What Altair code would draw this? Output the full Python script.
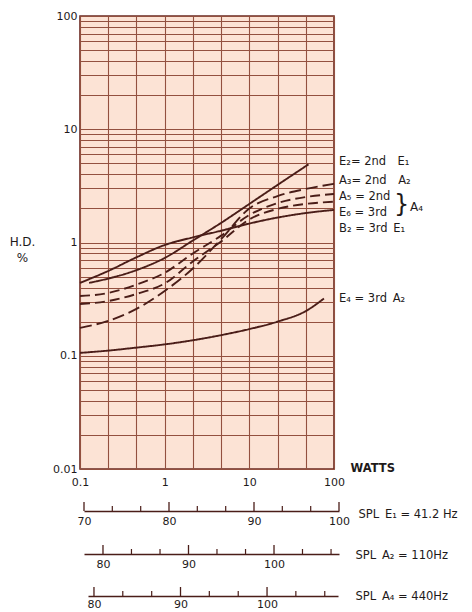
import altair as alt
import pandas as pd

FONT = "DejaVu Sans"
INK = "#4a1d18"
TEXT = "#1e1a1a"
BG = "#fce3d5"
GRID = "#93503f"

# ---------------- axis / grid values ----------------
x_grid = [0.1, 0.2154, 0.4642, 1, 2.154, 4.642, 10, 21.54, 46.42, 100]
x_label_vals = [0.1, 1, 10, 100]
x_label_txt = ["0.1", "1", "10", "100"]
y_grid = [m * d for d in [0.01, 0.1, 1, 10] for m in range(1, 10)] + [100]
y_label_vals = [0.01, 0.1, 1, 10, 100]
y_label_txt = ["0.01", "0.1", "1", "10", "100"]

# ---------------- curves (watts, H.D. %) ----------------
W = [0.1, 0.215, 0.464, 1, 2.15, 4.64, 10, 21.5, 46.4, 100]
E2_w = [0.128, 0.215, 0.464, 1, 2.15, 4.64, 10, 21.5, 50]
E2_hd = [0.44, 0.48, 0.57, 0.73, 1.04, 1.49, 2.19, 3.22, 4.9]
A3_hd = [0.176, 0.203, 0.259, 0.373, 0.59, 1.07, 2.0, 2.57, 2.97, 3.30]
A5_hd = [0.337, 0.358, 0.425, 0.54, 0.80, 1.15, 1.75, 2.23, 2.52, 2.68]
E6_hd = [0.286, 0.304, 0.351, 0.435, 0.68, 1.02, 1.60, 1.98, 2.19, 2.29]
B2_hd = [0.44, 0.56, 0.74, 0.95, 1.11, 1.27, 1.47, 1.66, 1.82, 1.94]
E4_w = [0.1, 0.215, 0.464, 1, 2.15, 4.64, 10, 21.5, 46.4, 76]
E4_hd = [0.106, 0.111, 0.118, 0.126, 0.137, 0.152, 0.172, 0.200, 0.248, 0.32]

series_names = ["E2", "A3", "A5", "E6", "B2", "E4"]
series_dash = [[1, 0], [12, 5], [10, 5], [10, 5], [1, 0], [1, 0]]

# right-hand labels (text, H.D. level)
label_txt = ["E₂= 2nd\u2002\u2002E₁", "A₃= 2nd\u2002\u2002A₂", "A₅ = 2nd", "E₆ = 3rd",
             "B₂ = 3rd\u2002E₁", "E₄ = 3rd\u2002A₂"]
label_hd = [5.14, 3.49, 2.50, 1.84, 1.31, 0.317]
brace_hd = 2.14
a4_hd = 2.05

# ---------------- SPL scales ----------------
e1_major = [70, 80, 90, 100]
e1_minor = [73.33, 76.67, 83.33, 86.67, 93.33, 96.67]
a2_major = [80, 90, 100]
a2_minor = [83.33, 86.67, 93.33, 96.67, 103.33, 106.67]
a4_major = [80, 90, 100]
a4_minor = [83.33, 86.67, 93.33, 96.67, 103.33, 106.67]

rows = []
for name, ws, hs in [("E2", E2_w, E2_hd), ("A3", W, A3_hd), ("A5", W, A5_hd),
                     ("E6", W, E6_hd), ("B2", W, B2_hd), ("E4", E4_w, E4_hd)]:
    for i, (w, h) in enumerate(zip(ws, hs)):
        rows.append({"series": name, "W": w, "HD": h, "ord": i})
df = pd.DataFrame(rows)


def lbl_expr(vals, txts):
    parts = " : ".join(f"datum.value == {v} ? '{t}'" for v, t in zip(vals, txts))
    return parts + " : ''"


xscale = alt.Scale(type="log", domain=[0.1, 100], nice=False)
yscale = alt.Scale(type="log", domain=[0.01, 100], nice=False)

xaxis = alt.Axis(values=x_grid, grid=True, gridColor=GRID, gridWidth=1.1, ticks=False,
                 domain=False, labelExpr=lbl_expr(x_label_vals, x_label_txt),
                 labelFlush=False, labelOverlap=False, labelPadding=7, labelFontSize=11,
                 labelColor=TEXT, labelFont=FONT,
                 title="WATTS", titleX=270, titleY=-1, titleAlign="left",
                 titleBaseline="middle", titleFontSize=11.5, titleFontWeight="bold",
                 titleColor=TEXT, titleFont=FONT)
yaxis = alt.Axis(values=y_grid, grid=True, gridColor=GRID, gridWidth=1.1, ticks=False,
                 domain=False, labelExpr=lbl_expr(y_label_vals, y_label_txt),
                 labelFlush=False, labelOverlap=False, labelPadding=3, labelFontSize=11,
                 labelColor=TEXT, labelFont=FONT,
                 title=["H.D.", "%"], titleAngle=0, titleX=-58, titleY=220,
                 titleAlign="center", titleBaseline="top", titleFontSize=12,
                 titleFontWeight="normal", titleColor=TEXT, titleFont=FONT, titleLineHeight=16)

lines = alt.Chart(df).mark_line(color=INK, strokeWidth=1.9, interpolate="monotone").encode(
    x=alt.X("W:Q", scale=xscale, axis=xaxis),
    y=alt.Y("HD:Q", scale=yscale, axis=yaxis),
    detail="series:N",
    strokeDash=alt.StrokeDash("series:N", scale=alt.Scale(domain=series_names, range=series_dash),
                              legend=None),
    order="ord:Q",
)

lab_df = pd.DataFrame({"W": [100] * len(label_txt), "HD": label_hd, "text": label_txt})
labels = alt.Chart(lab_df).mark_text(align="left", baseline="middle", dx=5, fontSize=11.5,
                                     font=FONT, color=TEXT).encode(
    x="W:Q", y="HD:Q", text="text:N")

brace = alt.Chart(pd.DataFrame({"W": [100], "HD": [brace_hd], "text": ["}"]})).mark_text(
    align="left", baseline="middle", dx=60, fontSize=24, font=FONT, color=TEXT).encode(
    x="W:Q", y="HD:Q", text="text:N")
a4lab = alt.Chart(pd.DataFrame({"W": [100], "HD": [a4_hd], "text": ["A₄"]})).mark_text(
    align="left", baseline="middle", dx=76, fontSize=12, font=FONT, color=TEXT).encode(
    x="W:Q", y="HD:Q", text="text:N")

main = alt.layer(lines, labels, brace, a4lab).properties(
    width=254, height=453,
    view=alt.ViewBackground(fill=BG, stroke="#6a2a22", strokeWidth=1.6),
)


def spl_chart(major, minor, domain, rng, h, title, tx, ty, pad):
    d = pd.DataFrame({"v": major + minor, "kind": ["major"] * len(major) + ["minor"] * len(minor)})
    sc = alt.Scale(domain=domain, range=rng, nice=False, zero=False)
    ax = alt.Axis(values=major, ticks=False, grid=False, domain=True, domainColor=INK,
                  domainWidth=1.3, labelPadding=pad, labelFontSize=11, labelFont=FONT,
                  labelColor=TEXT, labelFlush=False, labelOverlap=False, format="d",
                  title=title, titleX=tx, titleY=ty, titleAlign="left", titleBaseline="middle",
                  titleAngle=0, titleFontWeight="normal", titleFontSize=11.5, titleFont=FONT,
                  titleColor=TEXT)
    big = alt.Chart(d).transform_filter("datum.kind == 'major'").mark_rule(
        color=INK, strokeWidth=1.3).encode(
        x=alt.X("v:Q", scale=sc, axis=ax), y=alt.value(h - 9), y2=alt.value(h))
    small = alt.Chart(d).transform_filter("datum.kind == 'minor'").mark_rule(
        color=INK, strokeWidth=1.2).encode(
        x=alt.X("v:Q", scale=sc), y=alt.value(h - 5), y2=alt.value(h))
    return alt.layer(big, small).properties(
        width=262, height=h,
        view=alt.ViewBackground(fill="white", fillOpacity=0, stroke="white", strokeOpacity=0),
    )


e1 = spl_chart(e1_major, e1_minor, [70, 100], [4, 259], 11, "SPL\u2002E₁ = 41.2 Hz", 278, 3, 4)
a2 = spl_chart(a2_major, a2_minor, [77.78, 107.6], [4, 259], 12, "SPL\u2002A₂ = 110Hz", 275, 1, 4)
a4 = spl_chart(a4_major, a4_minor, [79.31, 108.2], [8, 258], 11, "SPL\u2002A₄ = 440Hz", 275, 0, 2)

chart = alt.vconcat(main, e1, a2, a4, spacing=31, bounds="flush").properties(
    padding={"left": 0, "top": 1, "right": 0, "bottom": 0}
).configure_view(stroke=None).configure(font=FONT)

chart.save("out.html", embed_options={"renderer": "svg", "actions": False})
